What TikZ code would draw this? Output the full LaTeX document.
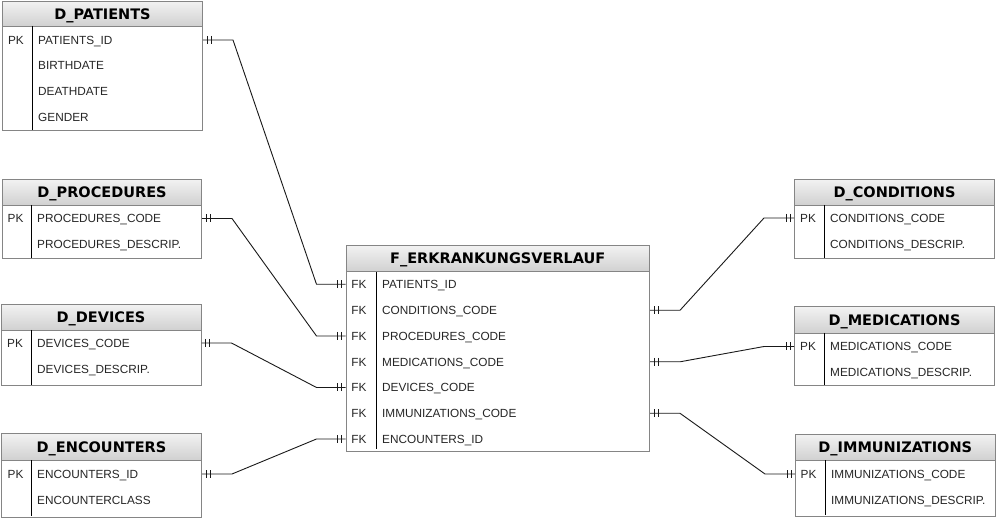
\documentclass[tikz,border=0pt]{standalone}
\usepackage{fontspec}
\setmainfont{Liberation Sans}
\newfontfamily\titlefont{DejaVu Sans}
\usetikzlibrary{calc}
\definecolor{bord}{HTML}{858585}
\definecolor{htop}{HTML}{F2F2F2}
\definecolor{hbot}{HTML}{D0D0D0}
\tikzset{
  hdr/.style={draw=bord, line width=1pt, top color=htop, bottom color=hbot, anchor=north west,
    inner sep=0pt, font=\titlefont\bfseries\fontsize{14.5}{16}\selectfont, text height=10.4pt, text depth=0pt},
  body/.style={draw=bord, line width=1pt, fill=white, anchor=north west, inner sep=0pt},
  divline/.style={draw=black, line width=0.9pt},
  keylbl/.style={inner sep=0pt, font=\fontsize{11.8}{14}\selectfont, text height=8.5pt, text depth=0pt, text=black!85},
  fld/.style={keylbl, anchor=west},
  conn/.style={draw=black!90, line width=0.9pt},
}
\newcommand\twobars[2]{%
  \draw[conn] ($(#1)+(#2*4,-4)$) -- ++(0,8) ($(#1)+(#2*8,-4)$) -- ++(0,8);}
\begin{document}
\begin{tikzpicture}[x=1pt,y=-1pt]
\useasboundingbox (0,0) rectangle (996,518);

% ---------- D_PATIENTS
\node[body, minimum width=200pt, minimum height=104pt] (patB) at (2,26) {};
\node[hdr, minimum width=200pt, minimum height=25pt] (patH) at (2,1) {D\_PATIENTS};
\draw[divline] (32,26) -- (32,130);
\node[keylbl] (patk1) at (16,40) {PK};
\node[fld] (patid) at (38,40) {PATIENTS\_ID};
\node[fld] (patbd) at (38,65.5) {BIRTHDATE};
\node[fld] (patdd) at (38,91) {DEATHDATE};
\node[fld] (patgd) at (38,117) {GENDER};

% ---------- D_PROCEDURES
\node[body, minimum width=199pt, minimum height=53pt] (procB) at (2,205) {};
\node[hdr, minimum width=199pt, minimum height=26pt] (procH) at (2,179) {D\_PROCEDURES};
\draw[divline] (31,205) -- (31,258);
\node[keylbl] (prock1) at (15.5,218.5) {PK};
\node[fld] (proccode) at (37,218.5) {PROCEDURES\_CODE};
\node[fld] (procdesc) at (37,244) {PROCEDURES\_DESCRIP.};

% ---------- D_DEVICES
\node[body, minimum width=200pt, minimum height=55pt] (devB) at (0.5,330) {};
\node[hdr, minimum width=200pt, minimum height=26pt] (devH) at (0.5,304) {D\_DEVICES};
\draw[divline] (31,330) -- (31,385);
\node[keylbl] (devk1) at (15,343) {PK};
\node[fld] (devcode) at (37,343) {DEVICES\_CODE};
\node[fld] (devdesc) at (37,369) {DEVICES\_DESCRIP.};

% ---------- D_ENCOUNTERS
\node[body, minimum width=200pt, minimum height=57pt] (encB) at (1,460) {};
\node[hdr, minimum width=200pt, minimum height=27pt] (encH) at (1,433) {D\_ENCOUNTERS};
\draw[divline] (31,460) -- (31,516);
\node[keylbl] (enck1) at (15.5,474) {PK};
\node[fld] (encid) at (37,474) {ENCOUNTERS\_ID};
\node[fld] (enccls) at (37,500) {ENCOUNTERCLASS};

% ---------- F_ERKRANKUNGSVERLAUF
\node[body, minimum width=303.5pt, minimum height=179pt] (fB) at (345.5,271.5) {};
\node[hdr, minimum width=303.5pt, minimum height=26.5pt] (fH) at (345.5,245) {F\_ERKRANKUNGSVERLAUF};
\draw[divline] (376,272) -- (376,449);
\node[keylbl] (fk1) at (359,284.3) {FK};
\node[keylbl] (fk2) at (359,310.3) {FK};
\node[keylbl] (fk3) at (359,336) {FK};
\node[keylbl] (fk4) at (359,361.8) {FK};
\node[keylbl] (fk5) at (359,387.5) {FK};
\node[keylbl] (fk6) at (359,413.3) {FK};
\node[keylbl] (fk7) at (359,439) {FK};
\node[fld] (fpat) at (382,284.3) {PATIENTS\_ID};
\node[fld] (fcond) at (382,310.3) {CONDITIONS\_CODE};
\node[fld] (fproc) at (382,336) {PROCEDURES\_CODE};
\node[fld] (fmed) at (382,361.8) {MEDICATIONS\_CODE};
\node[fld] (fdev) at (382,387.5) {DEVICES\_CODE};
\node[fld] (fimm) at (382,413.3) {IMMUNIZATIONS\_CODE};
\node[fld] (fenc) at (382,439) {ENCOUNTERS\_ID};

% ---------- D_CONDITIONS
\node[body, minimum width=200pt, minimum height=53pt] (condB) at (794,205) {};
\node[hdr, minimum width=200pt, minimum height=26pt] (condH) at (794,179) {D\_CONDITIONS};
\draw[divline] (824,205) -- (824,258);
\node[keylbl] (condk1) at (808,218) {PK};
\node[fld] (condcode) at (830,218) {CONDITIONS\_CODE};
\node[fld] (conddesc) at (830,244) {CONDITIONS\_DESCRIP.};

% ---------- D_MEDICATIONS
\node[body, minimum width=200pt, minimum height=52pt] (medB) at (794,333) {};
\node[hdr, minimum width=200pt, minimum height=26.5pt] (medH) at (794,306.5) {D\_MEDICATIONS};
\draw[divline] (824,333) -- (824,385);
\node[keylbl] (medk1) at (808,346.5) {PK};
\node[fld] (medcode) at (830,346.5) {MEDICATIONS\_CODE};
\node[fld] (meddesc) at (830,372) {MEDICATIONS\_DESCRIP.};

% ---------- D_IMMUNIZATIONS
\node[body, minimum width=199.5pt, minimum height=56pt] (immB) at (795,460) {};
\node[hdr, minimum width=199.5pt, minimum height=26pt] (immH) at (795,434) {D\_IMMUNIZATIONS};
\draw[divline] (825,460) -- (825,515);
\node[keylbl] (immk1) at (808.5,474) {PK};
\node[fld] (immcode) at (831,474) {IMMUNIZATIONS\_CODE};
\node[fld] (immdesc) at (831,500) {IMMUNIZATIONS\_DESCRIP.};

% ---------- connector end points
\coordinate (a1) at (patB.east |- patid);
\coordinate (b1) at (fB.west |- fpat);
\coordinate (a2) at (procB.east |- proccode);
\coordinate (b2) at (fB.west |- fproc);
\coordinate (a3) at (devB.east |- devcode);
\coordinate (b3) at (fB.west |- fdev);
\coordinate (a4) at (encB.east |- encid);
\coordinate (b4) at (fB.west |- fenc);
\coordinate (c1) at (fB.east |- fcond);
\coordinate (d1) at (condB.west |- condcode);
\coordinate (c2) at (fB.east |- fmed);
\coordinate (d2) at (medB.west |- medcode);
\coordinate (c3) at (fB.east |- fimm);
\coordinate (d3) at (immB.west |- immcode);

% ---------- connectors
\foreach \s/\t in {a1/b1,a2/b2,a3/b3,a4/b4}{
  \draw[conn] (\s) -- ++(30,0) -- ($(\t)+(-29,0)$) -- (\t);
  \twobars{\s}{1}
  \twobars{\t}{-1}
}
\foreach \s/\t in {c1/d1,c2/d2,c3/d3}{
  \draw[conn] (\s) -- ++(30,0) -- ($(\t)+(-30,0)$) -- (\t);
  \twobars{\s}{1}
  \twobars{\t}{-1}
}
\end{tikzpicture}
\end{document}
